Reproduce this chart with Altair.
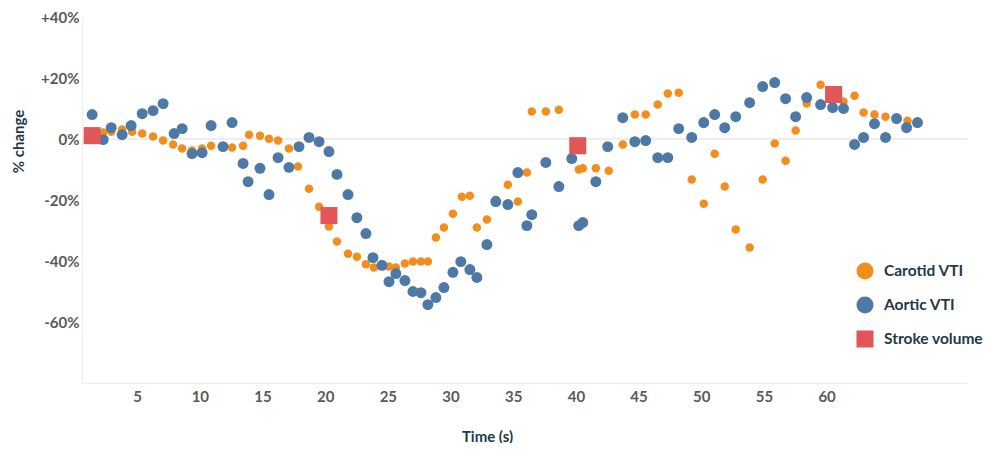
import altair as alt
import pandas as pd

# ---- data ----
carotid_t = [2.29, 2.93, 3.80, 4.60, 5.40, 6.27, 7.07, 7.87, 8.59, 9.38, 10.18, 10.90,
             12.57, 13.45, 13.93, 14.80, 15.52, 16.24, 17.11, 17.83, 18.71, 19.51, 20.30,
             20.94, 21.82, 22.53, 23.25, 23.89, 25.09, 25.64, 26.36, 27.00, 27.64, 28.19,
             28.83, 29.47, 30.19, 30.90, 31.54, 32.10, 32.90, 33.61, 34.57, 35.37, 36.09,
             36.48, 37.60, 38.64, 40.23, 40.55, 41.59, 42.62, 43.74, 44.70, 45.57, 46.53,
             47.33, 48.20, 49.24, 50.20, 51.07, 51.87, 52.75, 53.86, 54.90, 55.86, 56.73,
             57.53, 58.41, 59.52, 61.35, 62.23, 62.95, 63.82, 64.70, 66.46]
carotid_pct = [2.1, 2.4, 3.1, 2.4, 1.8, 0.8, -0.5, -1.8, -3.1, -3.8, -3.1, -2.2,
               -2.8, -2.2, 1.4, 1.1, 0.1, -0.5, -3.1, -9.0, -16.3, -22.2, -28.7,
               -33.6, -37.6, -38.6, -41.1, -42.1, -41.8, -42.1, -40.8, -40.2, -40.2, -40.2,
               -32.3, -29.0, -24.5, -18.9, -18.6, -29.0, -26.4, -19.9, -15.0, -20.5, -11.0,
               9.0, 9.0, 9.6, -10.0, -9.6, -9.6, -10.4, -1.8, 8.0, 8.0, 11.3,
               14.9, 15.2, -13.3, -21.2, -4.8, -15.6, -29.7, -35.6, -13.3, -1.5, -7.1,
               2.8, 11.6, 17.8, 12.3, 14.2, 8.7, 8.0, 7.3, 6.0]

aortic_t = [1.41, 2.29, 2.93, 3.80, 4.52, 5.40, 6.27, 7.07, 7.95, 8.59, 9.38, 10.18,
            10.90, 11.85, 12.57, 13.45, 13.85, 14.80, 15.52, 16.24, 17.11, 17.91, 18.71,
            19.51, 20.30, 20.94, 21.82, 22.53, 23.25, 23.81, 24.53, 25.09, 25.64, 26.36,
            27.00, 27.64, 28.19, 28.83, 29.47, 30.19, 30.82, 31.54, 32.10, 32.90, 33.61,
            34.57, 35.37, 36.09, 36.48, 37.60, 38.64, 39.67, 40.23, 40.55, 41.59, 42.54,
            43.74, 44.70, 45.57, 46.53, 47.33, 48.20, 49.24, 50.20, 51.07, 51.87, 52.75,
            53.86, 54.90, 55.86, 56.73, 57.53, 58.41, 59.52, 60.48, 61.35, 62.23, 62.95,
            63.82, 64.70, 65.58, 66.38, 67.25]
aortic_pct = [8.0, -0.2, 3.7, 1.4, 4.4, 8.3, 9.3, 11.6, 1.8, 3.4, -4.8, -4.5,
              4.4, -2.5, 5.4, -8.0, -14.0, -9.6, -18.2, -6.1, -9.3, -2.5, 0.5,
              -0.9, -4.1, -11.6, -18.2, -25.8, -31.0, -38.9, -41.4, -46.8, -44.1, -46.4,
              -50.0, -50.4, -54.3, -52.0, -48.7, -43.7, -40.2, -42.8, -45.4, -34.6, -20.5,
              -21.5, -11.0, -28.4, -24.8, -7.7, -15.6, -6.4, -28.4, -27.4, -14.0, -2.5,
              7.0, -0.9, -0.5, -6.1, -6.1, 3.4, 0.5, 5.4, 8.0, 3.7, 7.3,
              11.9, 17.2, 18.5, 13.2, 7.3, 13.6, 11.3, 10.3, 10.0, -1.8, 0.5,
              5.0, 0.5, 6.7, 3.7, 5.4]

sv_t = [1.41, 20.30, 40.15, 60.56]
sv_pct = [1.1, -25.1, -2.2, 14.6]

series_names = ["Carotid VTI", "Aortic VTI", "Stroke volume"]
series_colors = ["#F28E1E", "#4E79A7", "#E15759"]
series_shapes = ["circle", "circle", "square"]

x_ticks = [5, 10, 15, 20, 25, 30, 35, 40, 45, 50, 55, 60]
y_ticks = [-60, -40, -20, 0, 20, 40]
zero_line = [0]

# ---- table ----
rows = []
for t, p in zip(carotid_t, carotid_pct):
    rows.append({"t": t, "pct": p, "series": series_names[0]})
for t, p in zip(aortic_t, aortic_pct):
    rows.append({"t": t, "pct": p, "series": series_names[1]})
for t, p in zip(sv_t, sv_pct):
    rows.append({"t": t, "pct": p, "series": series_names[2]})
df = pd.DataFrame(rows)

FONT = "Lato"
TITLE_COLOR = "#1d3a48"

legend = alt.Legend(
    title=None,
    orient="none",
    legendX=774,
    legendY=245,
    symbolSize=290,
    symbolStrokeWidth=0,
    symbolOpacity=1,
    labelFont=FONT,
    labelFontSize=15.5,
    labelFontWeight="bold",
    labelColor=TITLE_COLOR,
    labelOffset=10,
    labelLimit=200,
    rowPadding=16,
    padding=0,
)

size_rule = (
    alt.when(alt.datum.series == series_names[0]).then(alt.value(72))
    .when(alt.datum.series == series_names[1]).then(alt.value(120))
    .otherwise(alt.value(290))
)

points = alt.Chart(df).mark_point(filled=True, opacity=1, strokeWidth=0).encode(
    x=alt.X(
        "t:Q",
        scale=alt.Scale(domain=[0.6, 71.2], nice=False, zero=False),
        axis=alt.Axis(
            values=x_ticks,
            title="Time (s)",
            titleX=405,
            titleY=58,
            titleBaseline="alphabetic",
            labelPadding=6,
        ),
    ),
    y=alt.Y(
        "pct:Q",
        scale=alt.Scale(domain=[-80, 40], nice=False, zero=False),
        axis=alt.Axis(
            values=y_ticks,
            labelExpr="datum.value > 0 ? '+' + datum.value + '%' : datum.value + '%'",
            title="% change",
            titleX=-64,
            titleY=124,
            titleBaseline="middle",
            labelPadding=3,
        ),
    ),
    color=alt.Color("series:N", scale=alt.Scale(domain=series_names, range=series_colors), legend=legend),
    shape=alt.Shape("series:N", scale=alt.Scale(domain=series_names, range=series_shapes), legend=legend),
    size=size_rule,
)

zero = alt.Chart(pd.DataFrame({"pct": zero_line})).mark_rule(color="#dcdcdc", strokeWidth=1).encode(
    y="pct:Q"
)

chart = (
    alt.layer(zero, points)
    .properties(
        width=885,
        height=366,
        autosize=alt.AutoSizeParams(type="none"),
        padding={"left": 74, "top": 9, "right": 18, "bottom": 60},
    )
    .configure_view(strokeWidth=0)
    .configure_axis(
        labelFont=FONT,
        labelFontSize=15,
        labelFontWeight="bold",
        labelColor="#5a5a5a",
        titleFont=FONT,
        titleFontSize=15,
        titleFontWeight="bold",
        titleColor=TITLE_COLOR,
        ticks=False,
        tickSize=0,
        grid=False,
        domainColor="#ededed",
        domainWidth=1,
    )
)

chart.save("out.html", embed_options={"renderer": "svg", "actions": False})
